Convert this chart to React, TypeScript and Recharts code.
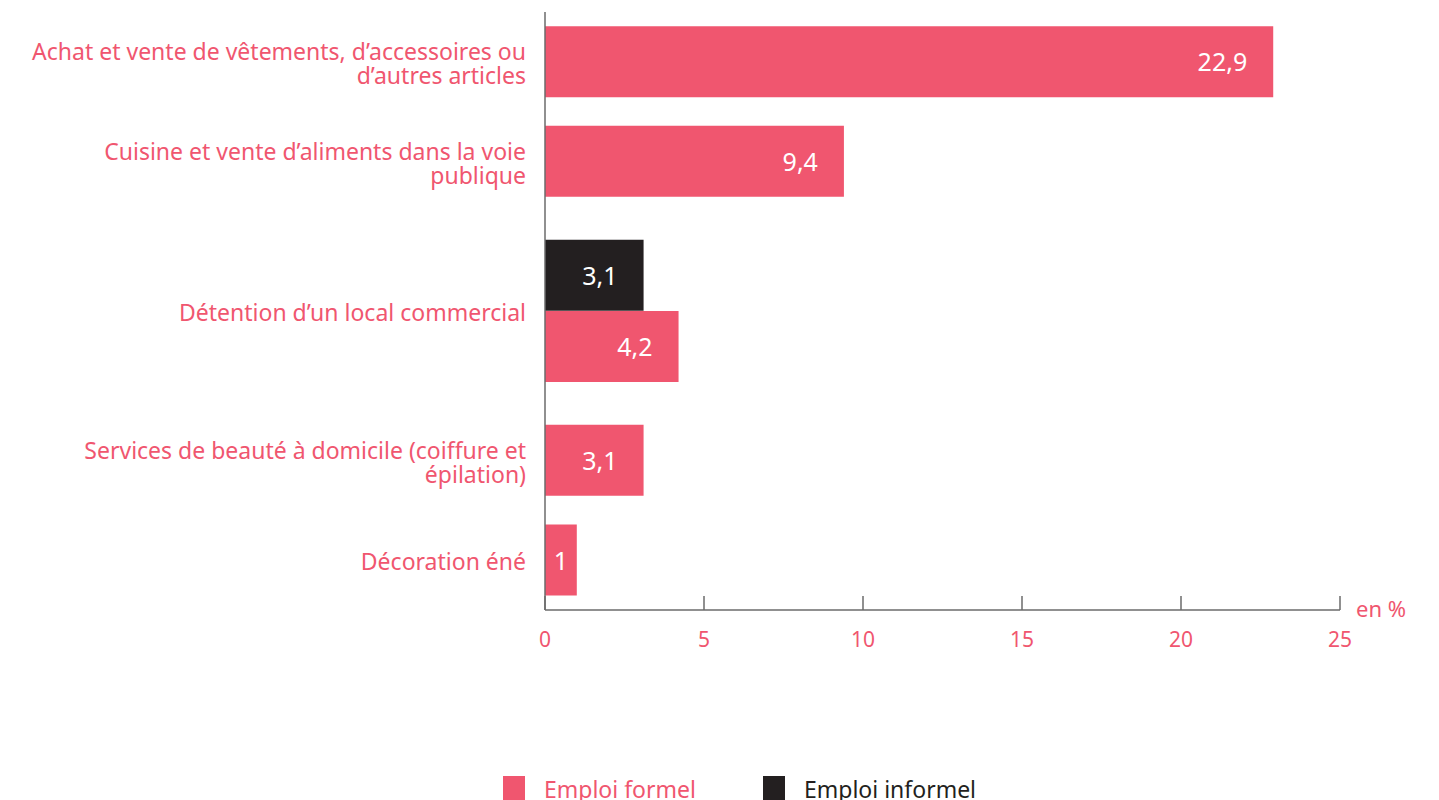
import { BarChart, Bar, XAxis, YAxis, Cell, LabelList } from 'recharts'

const categories = [
  'Achat et vente de vêtements, d’accessoires ou\nd’autres articles',
  'Cuisine et vente d’aliments dans la voie\npublique',
  'Détention d’un local commercial',
  'Services de beauté à domicile (coiffure et\népilation)',
  'Décoration éné',
]
const formel = [22.9, 9.4, 4.2, 3.1, 1]
const informel: Array<number | null> = [null, null, 3.1, null, null]
const xTicks = [0, 5, 10, 15, 20, 25]

const PINK = '#f0566f'
const DARK = '#231f20'
const AXIS = '#6b6b6b'
const FONT = '"Noto Sans", sans-serif'
const BAR_SLOT = 0.715

// one row per bar; categories with two series take two slots
const rows: Array<{ pos: number; value: number; series: 'formel' | 'informel' }> = []
const catCenters: number[] = []
let cursor = 0
categories.forEach((_, i) => {
  const vals = [
    { series: 'informel' as const, value: informel[i] },
    { series: 'formel' as const, value: formel[i] },
  ].filter((v) => v.value != null) as Array<{ series: 'formel' | 'informel'; value: number }>
  const center = cursor + vals.length / 2
  catCenters.push(center)
  vals.forEach((v, j) => {
    rows.push({ pos: center + (j - (vals.length - 1) / 2) * BAR_SLOT, value: v.value, series: v.series })
  })
  cursor += vals.length
})

const fmt = (v: number) => String(v).replace('.', ',')

function CategoryTick(props: any) {
  const { x, y, payload } = props
  const idx = catCenters.findIndex((c) => Math.abs(c - payload.value) < 1e-6)
  if (idx < 0) return null
  const lines = categories[idx].split('\n')
  return (
    <text x={x} y={y} textAnchor="end" fill={PINK} fontSize={23} fontFamily={FONT}>
      {lines.map((line, k) => (
        <tspan key={k} x={x} y={y + 1 + (k - (lines.length - 1) / 2) * 24} dy="0.4em">
          {line}
        </tspan>
      ))}
    </text>
  )
}

function ValueLabel(props: any) {
  const { x, y, width, height, value } = props
  const small = width < 60
  return (
    <text
      x={small ? x + width / 2 : x + width - 26}
      y={y + height / 2}
      dy="0.38em"
      textAnchor={small ? 'middle' : 'end'}
      fill="#fff"
      fontSize={25}
      fontFamily={FONT}
    >
      {fmt(value)}
    </text>
  )
}

function UnitLabel(props: any) {
  const { viewBox } = props
  return (
    <text x={viewBox.x + viewBox.width + 16} y={viewBox.y} dy="0.3em" fill={PINK} fontSize={22} fontFamily={FONT}>
      en %
    </text>
  )
}

export default function App() {
  return (
    <div style={{ position: 'absolute', left: 0, top: 0, width: 1439, height: 800, background: '#fff' }}>
      <BarChart
        width={1439}
        height={800}
        data={rows}
        layout="vertical"
        margin={{ top: 12, right: 99, bottom: 160, left: 0 }}
      >
        <XAxis
          type="number"
          domain={[0, 25]}
          ticks={xTicks}
          interval={0}
          height={30}
          tickSize={-14}
          tickMargin={36}
          axisLine={{ stroke: AXIS, strokeWidth: 1.5 }}
          tickLine={{ stroke: AXIS, strokeWidth: 1.5 }}
          tick={{ fill: PINK, fontSize: 21, fontFamily: FONT }}
          label={<UnitLabel />}
        />
        <YAxis
          type="number"
          dataKey="pos"
          domain={[0, cursor]}
          ticks={catCenters}
          interval={0}
          width={545}
          tickSize={0}
          tickMargin={19}
          tickLine={false}
          axisLine={{ stroke: AXIS, strokeWidth: 1.5 }}
          tick={<CategoryTick />}
        />
        <Bar dataKey="value" barSize={71} isAnimationActive={false}>
          {rows.map((r, i) => (
            <Cell key={i} fill={r.series === 'formel' ? PINK : DARK} />
          ))}
          <LabelList dataKey="value" content={<ValueLabel />} />
        </Bar>
      </BarChart>
      <div
        style={{
          position: 'absolute',
          left: 503,
          top: 776,
          display: 'flex',
          alignItems: 'flex-start',
          fontFamily: FONT,
          fontSize: 23,
          lineHeight: '30px',
        }}
      >
        <span style={{ width: 22, height: 24, background: PINK, display: 'inline-block' }} />
        <span style={{ color: PINK, marginLeft: 19, marginTop: -2 }}>Emploi formel</span>
        <span style={{ width: 22, height: 24, background: DARK, display: 'inline-block', marginLeft: 67 }} />
        <span style={{ color: DARK, marginLeft: 19, marginTop: -2 }}>Emploi informel</span>
      </div>
    </div>
  )
}
